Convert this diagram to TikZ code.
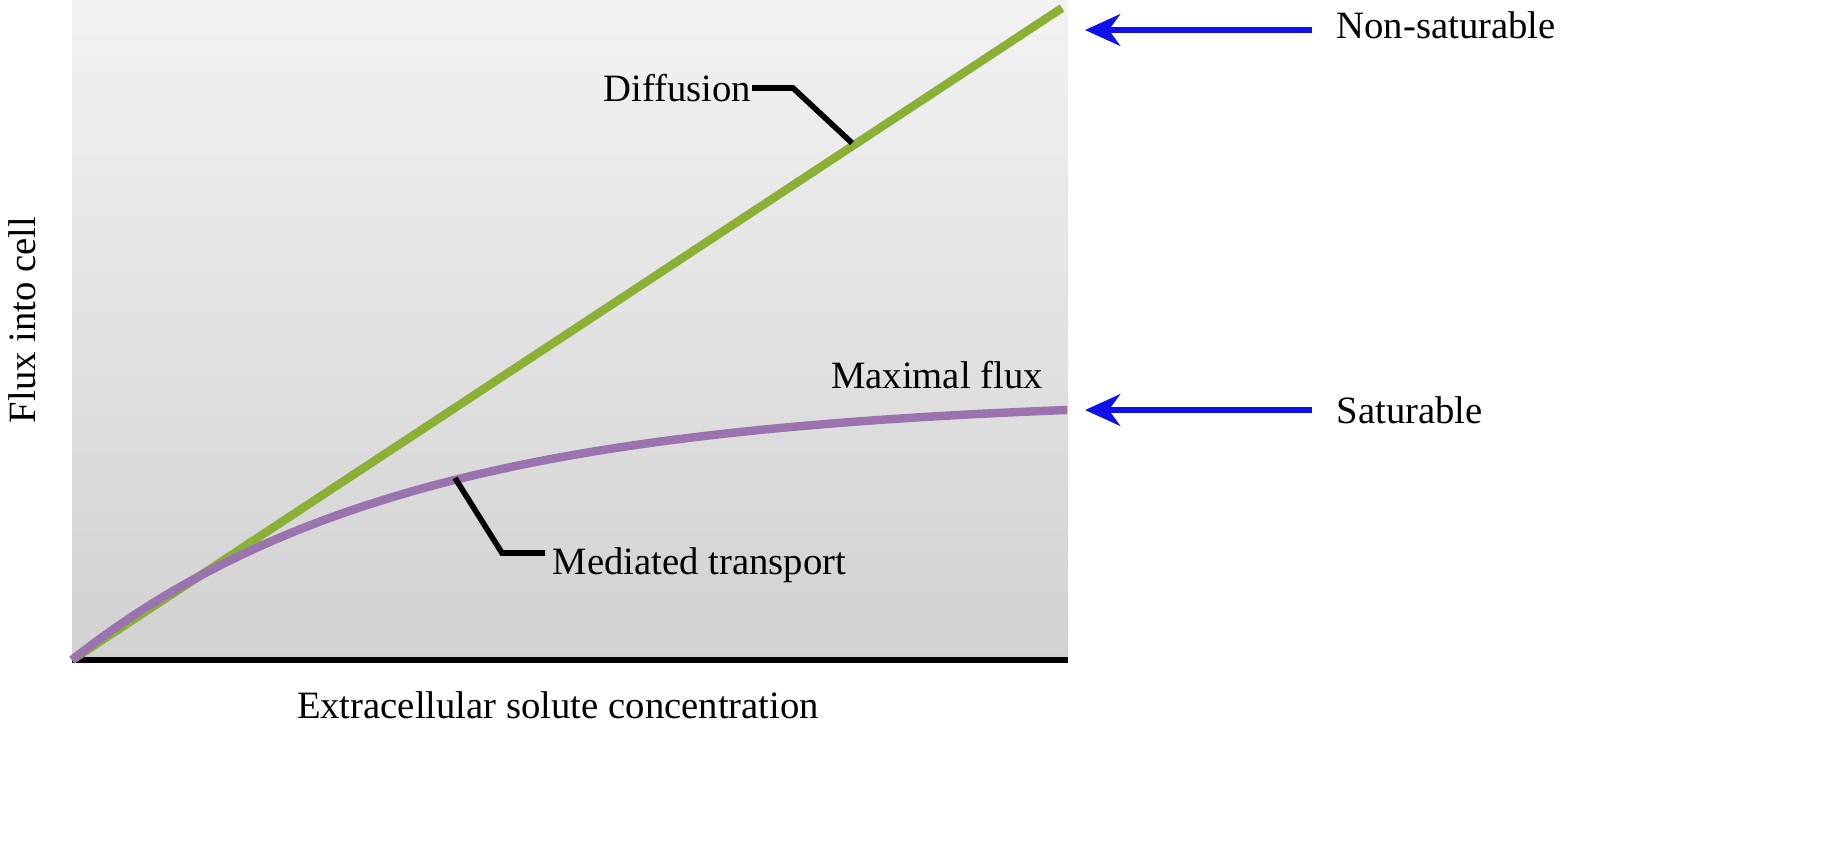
\documentclass[tikz,border=0pt]{standalone}
\usepackage{fontspec}
\setmainfont{Liberation Serif}
\usetikzlibrary{arrows.meta}
\definecolor{grn}{HTML}{8AB036}
\definecolor{prp}{HTML}{9B73AE}
\definecolor{arr}{HTML}{1010E8}
\tikzset{lbl/.style={font=\fontsize{11pt}{13pt}\selectfont,inner sep=0pt},
 lead/.style={black,line width=1.6pt},
 barr/.style={arr,line width=1.6pt,-{Stealth[length=10pt,width=9pt]}}}
\begin{document}
\begin{tikzpicture}[x=0.01cm,y=-0.01cm]
\useasboundingbox (0,0) rectangle (1822,844);
\shade[top color=black!5,bottom color=black!18] (72,0) rectangle (1068,660);
\draw[black,line width=1.5pt] (72,660) -- (1068,660);
\draw[grn,line width=2.4pt] (72,660) -- (1062,8);
\draw[prp,line width=2.4pt,domain=0:1,samples=80,smooth] plot ({72+996*\x},{660-263.2*(1-exp(-3*\x))});
\coordinate (d1) at (852,143); \coordinate (d2) at (793,88);
\node[lbl,anchor=east] (dif) at (752,88) {Diffusion};
\draw[lead] (d1) -- (d2) -- (dif.east);
\coordinate (m1) at (455,478); \coordinate (m2) at (502,553);
\node[lbl,anchor=west] (med) at (552,565) {Mediated transport};
\draw[lead] (m1) -- (m2) -- (545,553);
\node[lbl] (max) at (937,375) {Maximal flux};
\node[lbl,anchor=west] (ns) at (1336,25) {Non-saturable};
\node[lbl,anchor=west] (sat) at (1336,410) {Saturable};
\coordinate (a1) at (1312,30); \coordinate (a2) at (1312,410);
\draw[barr] (a1) -- (1085,30);
\draw[barr] (a2) -- (1085,410);
\node[lbl,rotate=90] (yl) at (22,320) {Flux into cell};
\node[lbl] (xl) at (558,705) {Extracellular solute concentration};
\end{tikzpicture}
\end{document}
